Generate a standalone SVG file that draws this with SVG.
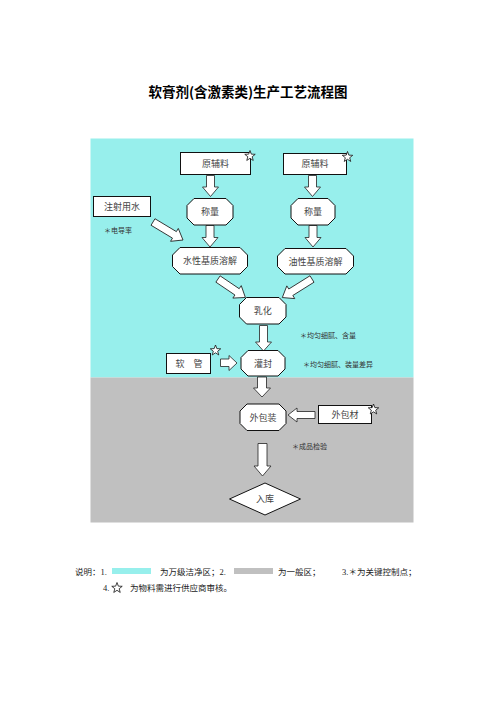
<svg xmlns="http://www.w3.org/2000/svg" xmlns:xlink="http://www.w3.org/1999/xlink" width="496" height="702" viewBox="0 0 496 702">
<style>
.box{fill:#fff;stroke:#111;stroke-width:1}
.arr{fill:#fff;stroke:#222;stroke-width:0.8;stroke-linejoin:miter}
.star{fill:#fff;stroke:#111;stroke-width:0.8}
.t{font-family:"Noto Sans CJK SC","Noto Sans",sans-serif;font-size:9px;fill:#444;text-anchor:middle}
.n{font-family:"Noto Sans CJK SC","Noto Sans",sans-serif;font-size:7px;fill:#333}
.lg{font-family:"Liberation Serif","Noto Sans CJK SC",serif;font-size:8.5px;fill:#222}
.title{font-family:"Noto Sans CJK SC",sans-serif;font-size:13.5px;font-weight:bold;fill:#000;text-anchor:middle}
</style>
<defs>
<path id="star" d="M0,-5.5 L1.35,-1.86 L5.23,-1.7 L2.19,0.71 L3.23,4.45 L0,2.3 L-3.23,4.45 L-2.19,0.71 L-5.23,-1.7 L-1.35,-1.86 Z"/>
</defs>
<rect width="496" height="702" fill="#fff"/>
<text class="title" x="248" y="96.5">软膏剂(含激素类)生产工艺流程图</text>
<rect x="90.5" y="138.5" width="323" height="239" fill="#97EFEC"/>
<rect x="90.5" y="377.5" width="323" height="145" fill="#C0C0C0"/>

<g id="connectors">
<path class="arr" d="M206.5,175.5 L214.5,175.5 L214.5,187 L218.5,187 L210.5,196.5 L202.5,187 L206.5,187 Z"/>
<path class="arr" d="M308.5,175.5 L316.5,175.5 L316.5,187 L320.5,187 L312.5,196.5 L304.5,187 L308.5,187 Z"/>
<path class="arr" d="M206,225.5 L214,225.5 L214,237.5 L218,237.5 L210,247 L202,237.5 L206,237.5 Z"/>
<path class="arr" d="M309,225.5 L317,225.5 L317,237.5 L321,237.5 L313,247 L305,237.5 L309,237.5 Z"/>
<path class="arr" transform="translate(153,222) rotate(31)" d="M0,-3.8 L25,-3.8 L25,-7.5 L35,0 L25,7.5 L25,3.8 L0,3.8 Z"/>
<path class="arr" transform="translate(218,279) rotate(34)" d="M0,-3.8 L23,-3.8 L23,-7.5 L33,0 L23,7.5 L23,3.8 L0,3.8 Z"/>
<path class="arr" transform="translate(312,279) rotate(148)" d="M0,-3.8 L25,-3.8 L25,-7.5 L35,0 L25,7.5 L25,3.8 L0,3.8 Z"/>
<path class="arr" d="M259.5,325.5 L267.5,325.5 L267.5,342 L271.5,342 L263.5,351 L255.5,342 L259.5,342 Z"/>
<path class="arr" d="M220.5,359 L229,359 L229,355.5 L237,363 L229,370.5 L229,366.5 L220.5,366.5 Z"/>
<path class="arr" d="M257.5,377 L266.5,377 L266.5,388 L270.5,388 L262,397 L253.5,388 L257.5,388 Z"/>
<path class="arr" d="M315,411.5 L297,411.5 L297,408 L288,415 L297,422 L297,418.5 L315,418.5 Z"/>
<path class="arr" d="M258,443.5 L267,443.5 L267,466 L271,466 L262.5,476 L254,466 L258,466 Z"/>
</g>

<g id="n-yuanfuliao1">
<rect class="box" x="180.5" y="152.5" width="70" height="22"/>
<text class="t" x="215.5" y="166.7">原辅料</text>
<use href="#star" class="star" x="250" y="156"/>
</g>
<g id="n-yuanfuliao2">
<rect class="box" x="283.5" y="153.5" width="63" height="21"/>
<text class="t" x="315" y="167.2">原辅料</text>
<use href="#star" class="star" x="347.5" y="157"/>
</g>
<g id="n-zhushe">
<rect class="box" x="93.5" y="196.5" width="57" height="20"/>
<text class="t" x="122" y="209.7">注射用水</text>
</g>
<text class="n" x="104" y="233">＊电导率</text>
<g id="n-chengliang1">
<path class="box" d="M194,198.5 L226,198.5 L233,205.5 L233,218 L226,225 L194,225 L187,218 L187,205.5 Z"/>
<text class="t" x="210" y="215">称量</text>
</g>
<g id="n-chengliang2">
<path class="box" d="M298,198.5 L328,198.5 L335,205.5 L335,218 L328,225 L298,225 L291,218 L291,205.5 Z"/>
<text class="t" x="313" y="215">称量</text>
</g>
<g id="n-shuixing">
<path class="box" d="M180,247.5 L240,247.5 L247.5,255 L247.5,266.5 L240,274 L180,274 L172.5,266.5 L172.5,255 Z"/>
<text class="t" x="210" y="264">水性基质溶解</text>
</g>
<g id="n-youxing">
<path class="box" d="M285,248.5 L346,248.5 L353.5,256 L353.5,266.5 L346,274 L285,274 L277.5,266.5 L277.5,256 Z"/>
<text class="t" x="315.5" y="264.5">油性基质溶解</text>
</g>
<g id="n-ruhua">
<path class="box" d="M246.5,297.5 L279,297.5 L286,304.5 L286,317 L279,324 L246.5,324 L239.5,317 L239.5,304.5 Z"/>
<text class="t" x="262.7" y="314">乳化</text>
</g>
<text class="n" x="300" y="337.5">＊均匀细腻、含量</text>
<g id="n-ruanguan">
<rect class="box" x="166.5" y="353.5" width="44" height="20"/>
<text class="t" x="189" y="366.5">软　管</text>
<use href="#star" class="star" x="215.5" y="350.5"/>
</g>
<g id="n-guanfeng">
<path class="box" d="M248,350.5 L278,350.5 L285,357.5 L285,369 L278,376 L248,376 L241,369 L241,357.5 Z"/>
<text class="t" x="263" y="366.5">灌封</text>
</g>
<text class="n" x="303" y="366.5">＊均匀细腻、装量差异</text>
<g id="n-waibaozhuang">
<path class="box" d="M247,404 L279,404 L286,411 L286,423.5 L279,430.5 L247,430.5 L240,423.5 L240,411 Z"/>
<text class="t" x="263" y="420.5">外包装</text>
</g>
<g id="n-waibaocai">
<rect class="box" x="318.5" y="405.5" width="53" height="18"/>
<text class="t" x="345" y="417.7">外包材</text>
<use href="#star" class="star" x="373.5" y="409.5"/>
</g>
<text class="n" x="292" y="448.5">＊成品检验</text>
<g id="n-ruku">
<path class="box" d="M265,483 L300.5,499 L265,515 L229.5,499 Z"/>
<text class="t" x="265" y="502.2">入库</text>
</g>

<g id="legend">
<text class="lg" x="75" y="574.5">说明：1.</text>
<rect x="112" y="568" width="39" height="6" fill="#97EFEC"/>
<text class="lg" x="160" y="574.5">为万级洁净区；2.</text>
<rect x="234" y="568" width="39" height="6" fill="#C0C0C0"/>
<text class="lg" x="278" y="574.5">为一般区；</text>
<text class="lg" x="342" y="574.5">3.＊为关键控制点；</text>
<text class="lg" x="103" y="591">4.</text>
<use href="#star" class="star" x="117" y="588"/>
<text class="lg" x="130" y="591">为物料需进行供应商审核。</text>
</g>
</svg>
